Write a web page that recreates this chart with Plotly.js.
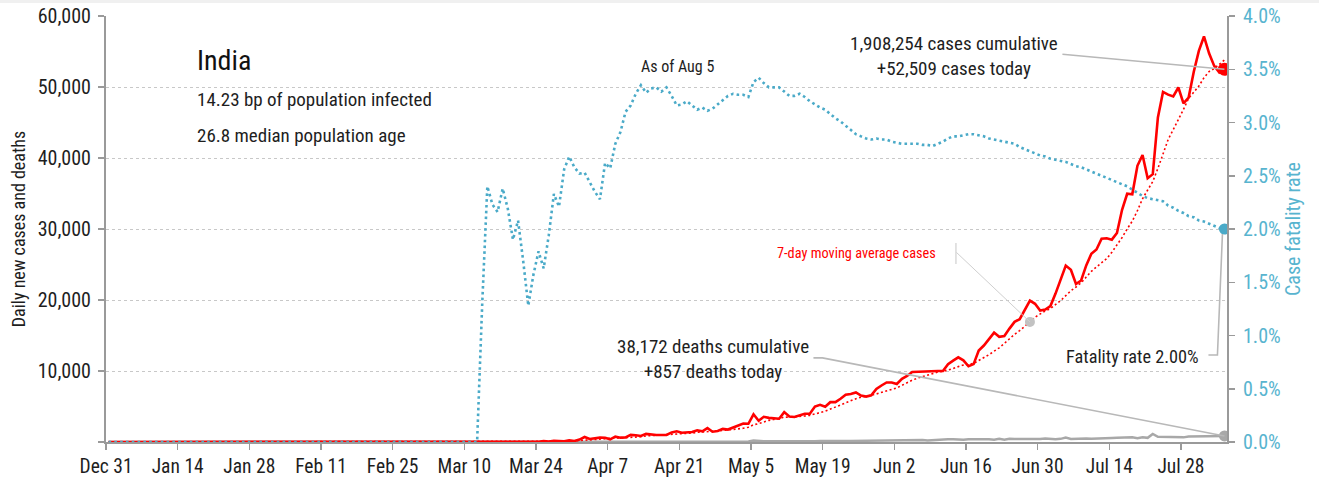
<!DOCTYPE html>
<html>
<head>
<meta charset="utf-8">
<script src="https://cdn.plot.ly/plotly-3.0.1.min.js"></script>
<style>
  html, body { margin: 0; padding: 0; background: #fff; }
  #chart { width: 1319px; height: 480px; }
</style>
</head>
<body>
<div id="chart"></div>
<script>
// ---------------- DATA ----------------
const startDate = [2019, 11, 31]; // Dec 31, 2019 (first day of the series)

// Daily new cases, by month
const casesDec = [0];
const casesJan = [0,0,0,0,0,0,0,0,0,0, 0,0,0,0,0,0,0,0,0,0, 0,0,0,0,0,0,0,0,0,1, 0];
const casesFeb = [0,1,1,0,0,0,0,0,0,0, 0,0,0,0,0,0,0,0,0,0, 0,0,0,0,0,0,0,0,0];
const casesMar = [0,2,1,22,2,1,3,5,9,15, 8,10,10,12,13,6,23,14,38,50, 86,66,103,37,121,70,160,100,112,227, 146];
const casesApr = [335,700,420,550,610,600,375,750,610,650, 1000,950,850,1150,1040,990,990,1000,1350,1500, 1300,1320,1400,1650,1500,1950,1450,1550,1850,1750];
const casesMay = [2000,2300,2600,2570,3900,3000,3550,3400,3320,3280, 4210,3600,3520,3720,3970,3970,4990,5240,4970,5610, 5610,6090,6650,6770,6980,6540,6390,6570,7470,7960, 8380];
const casesJun = [8390,8170,8910,9300,9850,9890,9970,9980,9990,9990, 10000,10960,11460,11930,11500,10670,10970,12880,13590,14520, 15410,14820,14930,15970,16920,17300,18550,19910,19460,18520];
const casesJul = [18650,19150,20900,22770,24850,24250,22250,22750,24880,26510, 27110,28640,28700,28500,29430,32700,34960,34880,38900,40430, 37150,37720,45720,49310,48920,48660,49930,47700,48510,52120, 55080];
const casesAug = [57120,54740,52970,52050,52509];

// Daily new deaths, by month
const deathsDec = [0];
const deathsJan = [0,0,0,0,0,0,0,0,0,0, 0,0,0,0,0,0,0,0,0,0, 0,0,0,0,0,0,0,0,0,0, 0];
const deathsFeb = [0,0,0,0,0,0,0,0,0,0, 0,0,0,0,0,0,0,0,0,0, 0,0,0,0,0,0,0,0,0];
const deathsMar = [0,0,0,0,0,0,0,0,0,0, 0,1,1,0,0,0,1,0,1,1, 0,3,2,2,1,3,3,2,5,4, 3];
const deathsApr = [6,9,12,15,16,20,30,33,36,40, 37,35,34,31,38,38,37,40,30,36, 35,50,36,40,56,57,62,60,71,73];
const deathsMay = [72,83,71,83,195,126,89,103,95,128, 97,122,134,100,103,120,120,157,134,140, 132,148,137,147,154,146,170,194,175,265, 193];
const deathsJun = [230,204,217,260,273,294,287,206,266,279, 357,396,386,311,325,380,400,334,336,375, 306,445,312,465,418,407,384,410,380,418];
const deathsJul = [507,434,379,442,613,425,467,482,487,475, 519,551,500,553,582,606,687,671,543,681, 587,1129,740,740,757,705,708,654,768,775, 779];
const deathsAug = [853,803,771,803,857];

// Case fatality rate (%), by month
const cfrDec = [0];
const cfrJan = [0,0,0,0,0,0,0,0,0,0, 0,0,0,0,0,0,0,0,0,0, 0,0,0,0,0,0,0,0,0,0, 0];
const cfrFeb = [0,0,0,0,0,0,0,0,0,0, 0,0,0,0,0,0,0,0,0,0, 0,0,0,0,0,0,0,0,0];
const cfrMar = [0,0,0,0,0,0,0,0,0,0, 0,0,1.30,2.40,2.23,2.16,2.38,2.19,1.90,2.08, 1.70,1.28,1.57,1.79,1.63,1.94,2.33,2.21,2.56,2.68, 2.58];
const cfrApr = [2.52,2.53,2.44,2.35,2.28,2.62,2.57,2.80,2.91,3.10, 3.16,3.27,3.35,3.28,3.32,3.33,3.29,3.33,3.25,3.16, 3.17,3.20,3.16,3.12,3.14,3.11,3.13,3.17,3.21,3.25];
const cfrMay = [3.27,3.26,3.26,3.24,3.38,3.42,3.37,3.33,3.33,3.33, 3.29,3.25,3.25,3.27,3.24,3.20,3.17,3.14,3.12,3.08, 3.04,3.01,2.97,2.93,2.89,2.87,2.85,2.84,2.85,2.84, 2.84];
const cfrJun = [2.82,2.81,2.80,2.80,2.80,2.80,2.79,2.79,2.78,2.80, 2.82,2.85,2.87,2.87,2.88,2.89,2.89,2.88,2.87,2.85, 2.84,2.83,2.82,2.81,2.80,2.77,2.75,2.73,2.71,2.69];
const cfrJul = [2.68,2.66,2.65,2.64,2.63,2.61,2.59,2.58,2.56,2.54, 2.52,2.50,2.48,2.46,2.44,2.42,2.40,2.37,2.34,2.31, 2.29,2.28,2.27,2.26,2.22,2.20,2.17,2.15,2.12,2.11, 2.08];
const cfrAug = [2.07,2.05,2.03,2.01,2.00];

// Tick labels
const leftTickVals = [0, 10000, 20000, 30000, 40000, 50000, 60000];
const leftTickText = ['', '10,000', '20,000', '30,000', '40,000', '50,000', '60,000'];
const rightTickVals = [0, 0.5, 1, 1.5, 2, 2.5, 3, 3.5, 4];
const rightTickText = ['0.0%', '0.5%', '1.0%', '1.5%', '2.0%', '2.5%', '3.0%', '3.5%', '4.0%'];

// Text
const countryName = 'India';
const infoLines = ['14.23 bp of population infected', '26.8 median population age'];
const asOfLabel = 'As of Aug 5';
const casesNote = ['1,908,254 cases cumulative', '+52,509 cases today'];
const deathsNote = ['38,172 deaths cumulative', '+857 deaths today'];
const maLabel = '7-day moving average cases';
const cfrNote = 'Fatality rate 2.00%';
const maMarkerDay = 180; // index of the day the MA label points to (Jun 28)

// ---------------- BUILD ----------------
const dailyCases = [].concat(casesDec, casesJan, casesFeb, casesMar, casesApr, casesMay, casesJun, casesJul, casesAug);
const dailyDeaths = [].concat(deathsDec, deathsJan, deathsFeb, deathsMar, deathsApr, deathsMay, deathsJun, deathsJul, deathsAug);
const cfr = [].concat(cfrDec, cfrJan, cfrFeb, cfrMar, cfrApr, cfrMay, cfrJun, cfrJul, cfrAug);

function dateAt(i) {
  const d = new Date(Date.UTC(startDate[0], startDate[1], startDate[2] + i, 12));
  return d.toISOString().slice(0, 19).replace('T', ' ');
}
const dates = dailyCases.map((_, i) => dateAt(i));
// trailing 7-day moving average of the daily cases
const ma7 = dailyCases.map((_, i) => {
  const s = dailyCases.slice(Math.max(0, i - 6), i + 1);
  return s.reduce((a, b) => a + b, 0) / s.length;
});
const last = dailyCases.length - 1;

const FONT = '"Roboto Condensed", "Liberation Sans Narrow", sans-serif';
const RED = '#ff0000';
const BLUE = '#4aaac8';
const BLUE_TXT = '#58b4cf';
const GRAY = '#a8a8a8';
const AXIS = '#9a9a9a';
const TXT = '#1e1e1e';

const traces = [
  { x: dates, y: dailyDeaths, type: 'scatter', mode: 'lines', line: { color: GRAY, width: 2.5 }, hoverinfo: 'skip' },
  { x: dates, y: ma7, type: 'scatter', mode: 'lines', line: { color: RED, width: 1.6, dash: '2px,2.5px' }, hoverinfo: 'skip' },
  { x: dates, y: dailyCases, type: 'scatter', mode: 'lines', line: { color: RED, width: 2.6 }, hoverinfo: 'skip' },
  { x: [dates[maMarkerDay]], y: [ma7[maMarkerDay]], type: 'scatter', mode: 'markers', marker: { color: '#c2c2c2', size: 10 }, hoverinfo: 'skip' },
  { x: [dates[last]], y: [dailyDeaths[last]], type: 'scatter', mode: 'markers', marker: { color: GRAY, size: 11 }, hoverinfo: 'skip' },
  { x: [dates[last]], y: [dailyCases[last]], type: 'scatter', mode: 'markers', marker: { color: RED, size: 13 }, hoverinfo: 'skip' },
  { x: dates, y: cfr, yaxis: 'y2', type: 'scatter', mode: 'lines', line: { color: BLUE, width: 2.6, dash: '2.6px,3.2px' }, hoverinfo: 'skip' },
  { x: [dates[last]], y: [cfr[last]], yaxis: 'y2', type: 'scatter', mode: 'markers', marker: { color: BLUE, size: 11 }, hoverinfo: 'skip' }
];

const L = 106, R = 1227, T = 16, B = 442;
const px = x => (x - L) / (R - L);
const py = y => (B - y) / (B - T);

function ann(text, x, y, opts) {
  return Object.assign({ text: text, xref: 'paper', yref: 'paper', x: px(x), y: py(y), showarrow: false,
    font: { family: FONT, size: 19, color: TXT }, xanchor: 'left', yanchor: 'middle' }, opts || {});
}

const annotations = [
  ann(countryName, 195, 60, { font: { family: FONT, size: 28, color: '#111' } }),
  ann(infoLines[0], 195, 100, { font: { family: FONT, size: 19, color: TXT } }),
  ann(infoLines[1], 195, 135, { font: { family: FONT, size: 19, color: TXT } }),
  ann(asOfLabel, 677, 66, { xanchor: 'center', font: { family: FONT, size: 16, color: TXT } }),
  ann(casesNote.join('<br>'), 954, 56, { xanchor: 'center', align: 'center' }),
  ann(deathsNote.join('<br>'), 713, 359, { xanchor: 'center', align: 'center' }),
  ann(maLabel, 856, 253, { xanchor: 'center', font: { family: FONT, size: 14.3, color: RED } }),
  ann(cfrNote, 1201, 356, { xanchor: 'right', font: { family: FONT, size: 18.3, color: TXT } })
];

function leader(xi, yv, yref, path, color, width) {
  return { type: 'path', xref: 'x', yref: yref, xsizemode: 'pixel', ysizemode: 'pixel',
    xanchor: dates[xi], yanchor: yv, path: path, line: { color: color, width: width }, layer: 'above' };
}

const shapes = [
  { type: 'rect', xref: 'paper', yref: 'paper', x0: -0.2, x1: 1.2, y0: py(3), y1: py(-2), fillcolor: '#f0f0f0', line: { width: 0 }, layer: 'below' },
  leader(last, dailyCases[last], 'y', 'M0,0 L-162,15', '#b8b8b8', 1.6),
  leader(last, dailyDeaths[last], 'y', 'M0,0 L-402,78 L-411,78', '#b8b8b8', 1.6),
  leader(last, cfr[last], 'y2', 'M-2,-5 L-7,-126 L-16,-126', '#b8b8b8', 1.6),
  leader(maMarkerDay, ma7[maMarkerDay], 'y', 'M0,0 L-74,70', '#cfcfcf', 1),
  leader(maMarkerDay, ma7[maMarkerDay], 'y', 'M-74,58 L-74,79', '#dcdcdc', 1.6)
];

const layout = {
  width: 1319, height: 480,
  margin: { l: L, r: 1319 - R, t: T, b: 480 - B, pad: 0 },
  paper_bgcolor: '#ffffff', plot_bgcolor: '#ffffff',
  font: { family: FONT, size: 20, color: TXT },
  showlegend: false,
  hovermode: false,
  xaxis: {
    type: 'date', range: ['2019-12-31', '2020-08-06'],
    tick0: '2019-12-31', dtick: 14 * 86400000, tickformat: '%b %-d',
    ticks: 'outside', ticklen: 6, tickwidth: 1.5, tickcolor: AXIS,
    showline: true, linecolor: AXIS, linewidth: 2,
    showgrid: false, zeroline: false,
    tickfont: { family: FONT, size: 19.5, color: TXT }
  },
  yaxis: {
    range: [0, 60000],
    tickvals: leftTickVals, ticktext: leftTickText,
    ticks: 'outside', ticklen: 6, tickwidth: 1.5, tickcolor: AXIS,
    ticklabelstandoff: 3,
    showline: true, linecolor: AXIS, linewidth: 2,
    showgrid: true, gridcolor: '#c8c8c8', gridwidth: 1, griddash: 'dot',
    zeroline: false,
    tickfont: { family: FONT, size: 20, color: TXT },
    title: { text: 'Daily new cases and deaths', font: { family: FONT, size: 18, color: TXT }, standoff: 7 }
  },
  yaxis2: {
    overlaying: 'y', side: 'right', range: [0, 4],
    tickvals: rightTickVals, ticktext: rightTickText,
    ticks: 'outside', ticklen: 6, tickwidth: 1.5, tickcolor: AXIS,
    ticklabelstandoff: 4,
    showline: true, linecolor: AXIS, linewidth: 2,
    showgrid: false, zeroline: false,
    tickfont: { family: FONT, size: 20, color: BLUE_TXT },
    title: { text: 'Case fatality rate', font: { family: FONT, size: 20, color: BLUE_TXT }, standoff: 6 }
  },
  annotations: annotations,
  shapes: shapes
};

Plotly.newPlot('chart', traces, layout, { staticPlot: true, displayModeBar: false });
</script>
</body>
</html>
